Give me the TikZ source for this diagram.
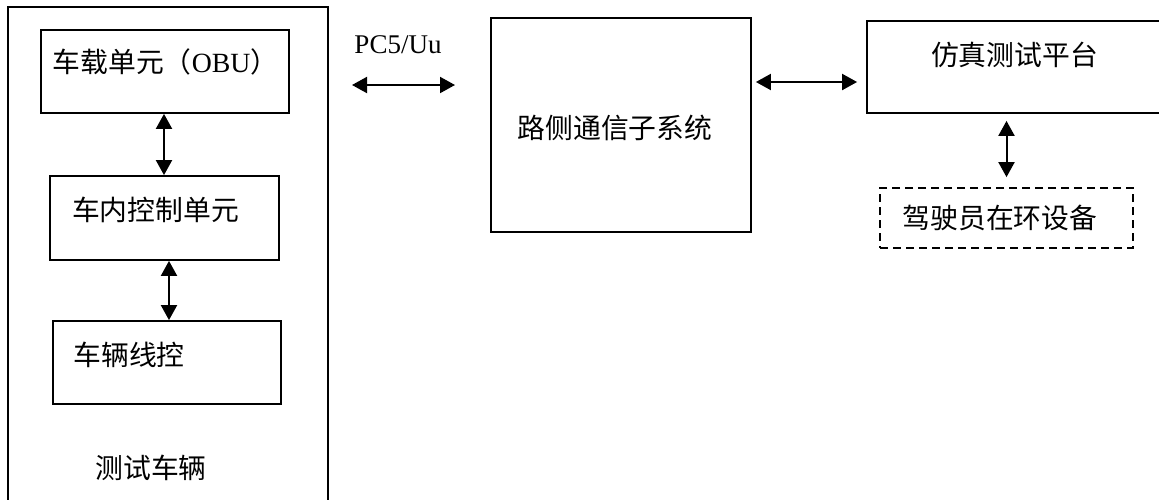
\documentclass[tikz,border=0pt]{standalone}
\usepackage{fontspec}
\setmainfont{Liberation Serif}
\newfontfamily\cjk{Noto Sans CJK SC}
\usetikzlibrary{arrows.meta}
\begin{document}
\begin{tikzpicture}[x=1pt,y=-1pt,
  box/.style={draw,line width=1.8pt,rectangle,inner sep=0pt},
  dbox/.style={box,dashed,dash pattern=on 8pt off 5pt},
  lbl/.style={inner sep=0pt,font=\fontsize{27.8}{32}\selectfont},
  arr/.style={line width=2pt,{Triangle[length=15pt,width=16pt]}-{Triangle[length=15pt,width=16pt]}}]
\clip (0,0) rectangle (1159,499);
\fill[white] (0,0) rectangle (1159,499);
% boxes
\node[box,minimum width=320pt,minimum height=513pt] (car) at (168,263.5) {};
\node[box,minimum width=248pt,minimum height=83pt] (obu) at (165,71.5) {};
\node[box,minimum width=229pt,minimum height=84pt] (ctrl) at (164.5,218) {};
\node[box,minimum width=228pt,minimum height=83pt] (wire) at (167,362.5) {};
\node[box,minimum width=260pt,minimum height=214pt] (rsu) at (621,125) {};
\node[box,minimum width=303pt,minimum height=92pt] (sim) at (1018.5,67) {};
\node[dbox,minimum width=253pt,minimum height=60pt] (dil) at (1006.5,218) {};
% labels
\node[lbl] (tobu) at (165.5,62) {{\cjk 车载单元（}OBU{\cjk ）}};
\node[lbl] (tctrl) at (155.5,210) {\cjk 车内控制单元};
\node[lbl] (twire) at (129,355) {\cjk 车辆线控};
\node[lbl] (tcar) at (151,468) {\cjk 测试车辆};
\node[lbl,font=\fontsize{27}{30}\selectfont] (tpc5) at (398,45) {PC5/Uu};
\node[lbl] (trsu) at (615,128) {\cjk 路侧通信子系统};
\node[lbl] (tsim) at (1014.5,55) {\cjk 仿真测试平台};
\node[lbl] (tdil) at (1000,218) {\cjk 驾驶员在环设备};
% connectors
\coordinate (pa) at (352,85);
\coordinate (pb) at (455,85);
\draw[arr] (pa) -- (pb);
\draw[arr] ([xshift=-1pt]obu.south) -- ([xshift=-1pt]obu.south |- ctrl.north);
\draw[arr] ([xshift=2pt]wire.north |- ctrl.south) -- ([xshift=2pt]wire.north);
\draw[arr] ([xshift=4pt]rsu.east |- 0,82) -- ([xshift=-9pt]sim.west |- 0,82);
\draw[arr] ([yshift=-7pt]sim.south -| dil.north) -- ([yshift=10pt]dil.north);
\end{tikzpicture}
\end{document}
